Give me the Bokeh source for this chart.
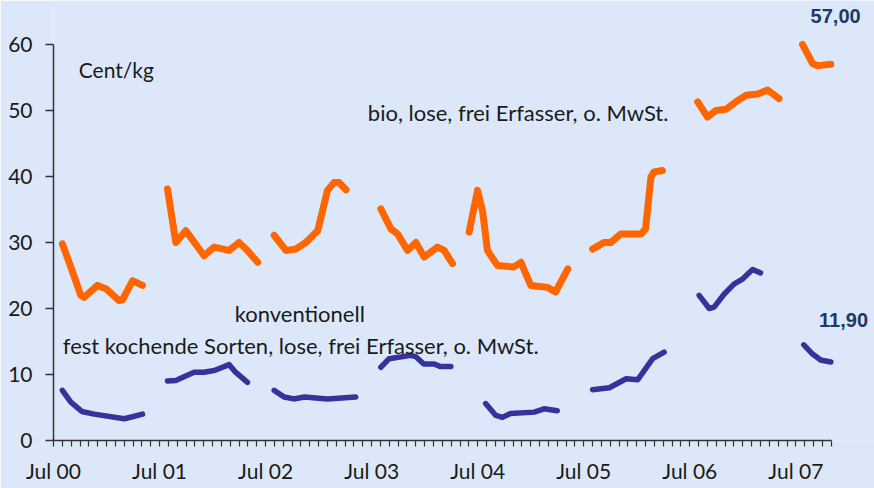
from bokeh.plotting import figure
from bokeh.models import Range1d, FixedTicker, Label
from bokeh.embed import file_html
from bokeh.resources import INLINE

# x = months since July 2000
bio_x = [
    [1.0, 1.96, 3.09, 3.46, 4.98, 5.92, 7.43, 7.8, 8.94, 10.07],
    [12.9, 13.84, 14.97, 17.04, 18.17, 19.87, 21.0, 21.95, 23.1],
    [24.97, 26.3, 27.4, 28.55, 29.9, 31.0, 31.75, 32.3, 33.1],
    [37.04, 38.17, 38.93, 40.06, 41.0, 41.94, 43.45, 44.2, 45.15],
    [47.03, 47.98, 48.55, 49.1, 50.24, 52.1, 52.9, 54.0, 55.9, 56.8, 58.2],
    [61.0, 62.3, 63.07, 64.2, 66.5, 67.0, 67.6, 67.96, 68.9],
    [72.9, 74.0, 74.95, 76.1, 77.2, 78.35, 79.7, 80.8, 82.1],
    [84.76, 85.9, 86.5, 87.96],
]
bio_y = [
    [29.8, 26.3, 22.0, 21.7, 23.5, 23.0, 21.2, 21.3, 24.2, 23.5],
    [38.1, 30.0, 31.8, 28.0, 29.3, 28.8, 30.0, 28.8, 27.0],
    [31.1, 28.8, 29.0, 30.0, 31.8, 37.9, 39.1, 39.1, 38.0],
    [35.1, 32.1, 31.3, 28.8, 30.0, 27.8, 29.3, 28.8, 26.8],
    [31.6, 37.9, 34.8, 28.8, 26.5, 26.3, 27.0, 23.5, 23.2, 22.5, 26.0],
    [29.0, 30.0, 30.0, 31.3, 31.3, 32.1, 39.9, 40.7, 40.9],
    [51.3, 49.0, 50.0, 50.2, 51.3, 52.3, 52.5, 53.1, 51.8],
    [60.0, 57.1, 56.8, 57.0],
]
konv_x = [
    [1.0, 1.96, 3.2, 4.6, 8.0, 8.94, 10.07],
    [12.9, 13.84, 15.9, 17.0, 18.2, 19.87, 20.6, 21.95],
    [24.97, 26.1, 27.2, 28.4, 31.0, 34.2],
    [37.04, 37.98, 40.4, 41.0, 41.9, 43.07, 43.8, 44.96],
    [48.9, 50.05, 50.8, 51.7, 54.4, 55.5, 57.0],
    [61.0, 62.9, 64.8, 66.1, 67.8, 69.1],
    [73.06, 74.2, 74.75, 75.9, 77.0, 78.0, 79.1, 80.0],
    [84.9, 85.9, 86.8, 87.96],
]
konv_y = [
    [7.6, 5.8, 4.4, 4.0, 3.3, 3.6, 4.0],
    [9.0, 9.1, 10.35, 10.35, 10.6, 11.5, 10.35, 8.8],
    [7.6, 6.6, 6.3, 6.6, 6.3, 6.6],
    [11.1, 12.4, 12.9, 12.7, 11.6, 11.6, 11.2, 11.2],
    [5.6, 3.8, 3.5, 4.1, 4.3, 4.8, 4.5],
    [7.7, 8.0, 9.35, 9.2, 12.4, 13.4],
    [22.0, 20.0, 20.2, 22.2, 23.7, 24.5, 25.9, 25.4],
    [14.5, 13.1, 12.2, 11.9],
]
x_tick_labels = ["Jul 00", "Jul 01", "Jul 02", "Jul 03", "Jul 04", "Jul 05", "Jul 06", "Jul 07"]
y_ticks = [0, 10, 20, 30, 40, 50, 60]
n_months = 88
bio_last = "57,00"
konv_last = "11,90"

BG = "#dce8f9"
FONT = "Lato"

p = figure(width=874, height=488, output_backend="svg", toolbar_location=None,
           x_range=Range1d(0, 92.9), y_range=Range1d(0, 66.67))
p.min_border = 0
p.min_border_left = 53
p.min_border_right = 0
p.min_border_top = 0
p.min_border_bottom = 48
p.background_fill_color = BG
p.border_fill_color = BG
p.outline_line_color = None
p.grid.visible = False

for xs, ys in zip(bio_x, bio_y):
    p.line(xs, ys, line_color="#ff6600", line_width=7, line_join="round", line_cap="round")
for xs, ys in zip(konv_x, konv_y):
    p.line(xs, ys, line_color="#333399", line_width=5.5, line_join="round", line_cap="round")

# axes
ya = p.yaxis[0]
ya.ticker = FixedTicker(ticks=y_ticks)
ya.bounds = (0, 60)
ya.major_tick_out = 8
ya.major_tick_in = 0
ya.minor_tick_out = 0
ya.axis_line_color = "#333333"
ya.major_tick_line_color = "#333333"
ya.axis_line_width = 1.5
ya.major_tick_line_width = 1.5
ya.major_label_text_font = FONT
ya.major_label_text_font_size = "21px"
ya.major_label_text_color = "#1a1a1a"
ya.major_label_standoff = 13

xa = p.xaxis[0]
month_ticks = list(range(n_months + 1))
xa.ticker = FixedTicker(ticks=month_ticks)
xa.bounds = (0, n_months)
overrides = {}
for m in month_ticks:
    overrides[m] = x_tick_labels[m // 12] if m % 12 == 0 else ""
xa.major_label_overrides = overrides
xa.major_tick_out = 6
xa.major_tick_in = 0
xa.minor_tick_out = 0
xa.axis_line_color = "#333333"
xa.major_tick_line_color = "#333333"
xa.axis_line_width = 1.5
xa.major_tick_line_width = 1.2
xa.major_label_text_font = FONT
xa.major_label_text_font_size = "21px"
xa.major_label_text_color = "#1a1a1a"
xa.major_label_standoff = 11

def add_text(x, y, txt, size="21px", align="left", bold=False, color="#1a1a1a", font=FONT):
    p.add_layout(Label(x=x, y=y, text=txt, text_font=font, text_font_size=size,
                       text_align=align, text_baseline="middle", text_color=color,
                       text_font_style="bold" if bold else "normal"))

add_text(2.86, 56.2, "Cent/kg")
add_text(35.57, 49.7, "bio, lose, frei Erfasser, o. MwSt.", size="22px")
add_text(20.5, 19.24, "konventionell", size="22px")
add_text(1.05, 14.4, "fest kochende Sorten, lose, frei Erfasser, o. MwSt.", size="22px")
add_text(88.5, 64.3, bio_last, size="20px", align="center", bold=True, color="#1f3864", font="Liberation Sans")
add_text(89.4, 18.2, konv_last, size="20px", align="center", bold=True, color="#1f3864", font="Liberation Sans")

open("out.html", "w").write(file_html(p, INLINE))
